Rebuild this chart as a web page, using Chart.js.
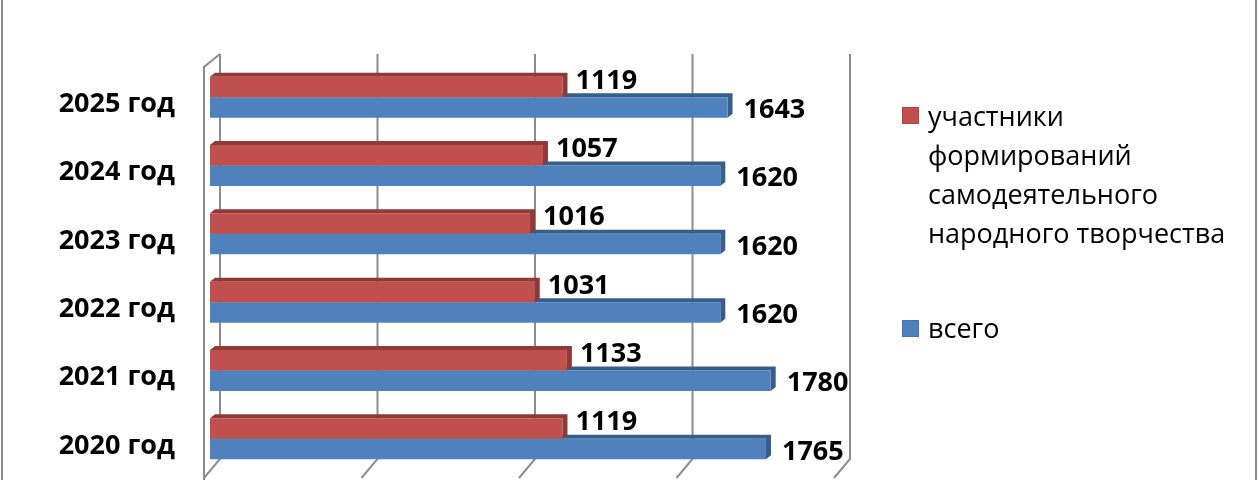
<!DOCTYPE html>
<html lang="ru">
<head>
    <meta charset="UTF-8">
    <title>Участники формирований</title>
    <script src="https://cdn.jsdelivr.net/npm/chart.js"></script>
    <style>
        html, body { margin: 0; padding: 0; background: #fff; }
        #wrap {
            position: relative; width: 1260px; height: 480px;
            font-family: "Open Sans", sans-serif;
        }
        #wrap:before, #wrap:after {
            content: ""; position: absolute; top: 0; bottom: 0; width: 2px; background: #8a8a8a;
        }
        #wrap:before { left: 1px; }
        #wrap:after { left: 1255px; }
        canvas { display: block; }
        .lg { position: absolute; left: 902px; }
        .sw { position: absolute; left: 0; width: 15px; height: 15px; }
        .tx { position: absolute; left: 26px; font-size: 27px; line-height: 39px; color: #000; white-space: nowrap; }
    </style>
</head>
<body>
<div id="wrap">
    <canvas id="myChart" width="1260" height="480"></canvas>
    <div class="lg" style="top:96px">
        <div class="sw" style="top:11px;background:#c0504d;border:1px solid #b4433f"></div>
        <div class="tx" style="top:0">участники<br>формирований<br>самодеятельного<br>народного творчества</div>
    </div>
    <div class="lg" style="top:308px">
        <div class="sw" style="top:12px;background:#4f81bd;border:1px solid #4374b0"></div>
        <div class="tx" style="top:0">всего</div>
    </div>
</div>
<script>
    const years = ['2025 год', '2024 год', '2023 год', '2022 год', '2021 год', '2020 год'];
    const participants = [1119, 1057, 1016, 1031, 1133, 1119];
    const total = [1643, 1620, 1620, 1620, 1780, 1765];
    const gridTicks = [0, 500, 1000, 1500, 2000];

    const DX = 5, DY = 4;

    // стенки и линии сетки псевдо-3D
    const wallPlugin = {
        id: 'walls',
        beforeDatasetsDraw(chart) {
            const ctx = chart.ctx, a = chart.chartArea, xs = chart.scales.x;
            ctx.save();
            ctx.strokeStyle = '#8c8c8c';
            ctx.lineWidth = 2;
            const top = a.top - 9, back = a.bottom - 14, front = a.bottom + 5;
            gridTicks.forEach(v => {
                const px = xs.getPixelForValue(v);
                ctx.beginPath();
                ctx.moveTo(px + 10, top);
                ctx.lineTo(px + 10, back);
                ctx.lineTo(px - 6, front);
                ctx.stroke();
            });
            const x0 = xs.getPixelForValue(0);
            ctx.beginPath();
            ctx.moveTo(x0 + 10, top);
            ctx.lineTo(x0 - 6, a.top + 4);
            ctx.lineTo(x0 - 6, front + 2);
            ctx.stroke();

            // боковые и верхние грани столбцов
            const dark = ['#8e3a37', '#385d8a'];
            [1, 0].forEach(di => {
                chart.getDatasetMeta(di).data.forEach(el => {
                    const p = el.getProps(['x', 'y', 'base', 'height'], true);
                    const y0 = p.y - p.height / 2, y1 = p.y + p.height / 2;
                    ctx.fillStyle = dark[di];
                    ctx.beginPath();
                    ctx.moveTo(p.base, y0);
                    ctx.lineTo(p.base + DX, y0 - DY);
                    ctx.lineTo(p.x + DX, y0 - DY);
                    ctx.lineTo(p.x + DX, y1 - DY);
                    ctx.lineTo(p.x, y1);
                    ctx.lineTo(p.x, y0);
                    ctx.closePath();
                    ctx.fill();
                });
            });
            ctx.restore();
        }
    };

    // подписи значений
    const valuePlugin = {
        id: 'values',
        afterDatasetsDraw(chart) {
            const ctx = chart.ctx;
            ctx.save();
            ctx.font = 'bold 27px "Open Sans"';
            ctx.fillStyle = '#000';
            ctx.textBaseline = 'middle';
            ctx.textAlign = 'left';
            chart.data.datasets.forEach((ds, di) => {
                chart.getDatasetMeta(di).data.forEach((el, i) => {
                    const p = el.getProps(['x', 'y'], true);
                    if (di === 0) ctx.fillText(ds.data[i], p.x + 13, p.y - 6);
                    else ctx.fillText(ds.data[i], p.x + 16, p.y + 3);
                });
            });
            ctx.restore();
        }
    };

    new Chart(document.getElementById('myChart'), {
        type: 'bar',
        data: {
            labels: years,
            datasets: [
                { label: 'участники формирований самодеятельного народного творчества', data: participants,
                  backgroundColor: '#c0504d', categoryPercentage: 0.6, barPercentage: 1 },
                { label: 'всего', data: total,
                  backgroundColor: '#4f81bd', categoryPercentage: 0.6, barPercentage: 1 }
            ]
        },
        options: {
            indexAxis: 'y',
            responsive: false,
            animation: false,
            layout: { padding: { left: 0, right: 420, top: 63, bottom: 7 } },
            plugins: { legend: { display: false }, tooltip: { enabled: false } },
            scales: {
                x: {
                    display: false,
                    min: 0, max: 2000
                },
                y: {
                    grid: { display: false, drawTicks: false },
                    border: { display: false },
                    afterFit(scale) {
                        scale.width = 210;
                        scale.paddingTop = 0;
                        scale.paddingBottom = 0;
                    },
                    ticks: {
                        padding: 35,
                        labelOffset: 7,
                        color: '#000',
                        font: { family: 'Open Sans', size: 27, weight: 'bold' }
                    }
                }
            }
        },
        plugins: [wallPlugin, valuePlugin]
    });
</script>
</body>
</html>
